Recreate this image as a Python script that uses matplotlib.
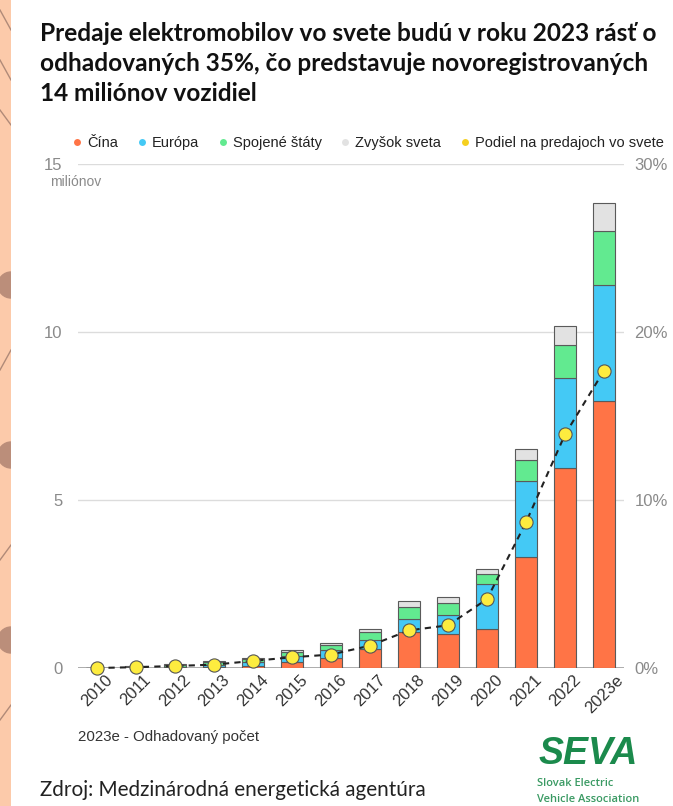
import numpy
import matplotlib.pyplot as plt
from matplotlib.lines import Line2D
from matplotlib.patches import Rectangle, Wedge

plt.rcParams['font.family'] = ['Liberation Sans', 'DejaVu Sans']

years = ['2010', '2011', '2012', '2013', '2014', '2015', '2016',
         '2017', '2018', '2019', '2020', '2021', '2022', '2023e']

# predaje v milionoch
china = [0.002, 0.005, 0.01, 0.015, 0.07, 0.18, 0.31, 0.57, 1.06, 1.02, 1.16, 3.29, 5.95, 7.95]
europe = [0.003, 0.01, 0.03, 0.07, 0.10, 0.17, 0.24, 0.27, 0.40, 0.57, 1.34, 2.27, 2.67, 3.44]
usa = [0.004, 0.02, 0.05, 0.09, 0.11, 0.12, 0.12, 0.22, 0.37, 0.34, 0.31, 0.64, 0.99, 1.61]
rest = [0.001, 0.01, 0.02, 0.02, 0.03, 0.08, 0.08, 0.11, 0.17, 0.17, 0.15, 0.32, 0.58, 0.85]

# podiel na predajoch v %
share = [0.0, 0.05, 0.12, 0.2, 0.42, 0.64, 0.8, 1.33, 2.24, 2.54, 4.1, 8.67, 13.9, 17.7]

series_names = ['Čína', 'Európa', 'Spojené štáty', 'Zvyšok sveta']
series_colors = ['#ff7446', '#44c9f5', '#62ea90', '#e2e2e2']
share_name = 'Podiel na predajoch vo svete'
share_color = '#fdec3f'

left_ticks = [0, 5, 10, 15]
right_ticks = [0, 10, 20, 30]

W, H = 673, 806
fig = plt.figure(figsize=(W / 100, H / 100), dpi=100)
fig.patch.set_facecolor('white')

# okraj pozadia vlavo
strip = fig.add_axes([0, 0, 11 / W, 1])
strip.set_xlim(0, 11)
strip.set_ylim(H, 0)
strip.axis('off')
strip.add_patch(Rectangle((0, 0), 11, H, color='#fccaaa'))
for yc in [285, 455, 640]:
    strip.add_patch(Wedge((11, yc), 13, 90, 270, color='#bb8e7a'))
for y1, y2 in [(10, 30), (60, 80), (110, 125), (370, 350), (560, 545), (720, 705)]:
    strip.plot([0, 11], [y1, y2], color='#b08a78', lw=1)

ax = fig.add_axes([77.5 / W, 138 / H, 546 / W, 504 / H])
x = numpy.arange(len(years))
bottom = numpy.zeros(len(years))
for values, color in zip([china, europe, usa, rest], series_colors):
    ax.bar(x, values, width=0.58, bottom=bottom, color=color,
           edgecolor='#5a5a5a', linewidth=0.8, zorder=3)
    bottom = bottom + numpy.array(values)

ax.set_xlim(-0.5, len(years) - 0.5)
ax.set_ylim(0, 15)
ax.set_yticks(left_ticks)
ax.yaxis.grid(True, color='#dcdcdc', linewidth=1)
ax.set_axisbelow(True)
ax.axhline(0, color='#a0a0a0', linewidth=1.2, zorder=2)
for side in ['top', 'right', 'left', 'bottom']:
    ax.spines[side].set_visible(False)
ax.tick_params(axis='y', length=0, pad=11, labelsize=12, labelcolor='#8a8a8a')
ax.set_xticks(x)
ax.set_xticklabels(years, rotation=45, ha='center')
ax.tick_params(axis='x', length=0, pad=3, labelsize=12, labelcolor='#333333')

ax2 = ax.twinx()
ax2.set_ylim(0, 30)
ax2.set_yticks(right_ticks)
ax2.set_yticklabels([str(t) + '%' for t in right_ticks])
ax2.tick_params(axis='y', length=0, pad=8, labelsize=12, labelcolor='#8a8a8a')
for side in ['top', 'right', 'left', 'bottom']:
    ax2.spines[side].set_visible(False)
ax2.plot(x, share, linestyle=(0, (3, 2.5)), color='#222222', linewidth=1.5,
         marker='o', markersize=9.5, markerfacecolor=share_color,
         markeredgecolor='#555555', markeredgewidth=0.8, clip_on=False, zorder=5)

fig.text(50 / W, 1 - 182 / H, 'miliónov', fontsize=10, color='#8a8a8a',
         va='center', ha='left')

handles = [Line2D([], [], linestyle='none', marker='o', markersize=5,
                  markerfacecolor=c, markeredgecolor='none') for c in series_colors]
handles.append(Line2D([], [], linestyle='none', marker='o', markersize=5,
                      markerfacecolor='#f5d020', markeredgecolor='none'))
fig.legend(handles, series_names + [share_name], loc='center left',
           bbox_to_anchor=(73 / W, 1 - 143 / H), ncol=5, frameon=False,
           fontsize=10.5, handlelength=0.6, handletextpad=0.4, columnspacing=1.3,
           borderaxespad=0, borderpad=0, labelcolor='#222222')

fig.text(40 / W, 1 - 22 / H,
         'Predaje elektromobilov vo svete budú v roku 2023 rásť o\n'
         'odhadovaných 35%, čo predstavuje novoregistrovaných\n'
         '14 miliónov vozidiel',
         fontsize=17.6, fontweight='bold', family='Lato', color='#111111',
         va='top', ha='left', linespacing=1.38)

fig.text(78 / W, 1 - 737 / H, '2023e - Odhadovaný počet', fontsize=10.8,
         color='#333333', va='center')
fig.text(40 / W, 1 - 790 / H, 'Zdroj: Medzinárodná energetická agentúra',
         fontsize=14.9, family='Lato', color='#222222', va='center')

seva_green = '#1b8a4c'
fig.text(588 / W, 1 - 754 / H, 'SEVA', fontsize=27, fontweight='heavy',
         fontstyle='italic', color=seva_green, ha='center', va='center')
fig.text(537 / W, 1 - 784 / H, 'Slovak Electric', fontsize=8, family='Open Sans',
         fontweight='semibold', color='#3a9a63', va='center')
fig.text(537 / W, 1 - 799 / H, 'Vehicle Association', fontsize=8, family='Open Sans',
         fontweight='semibold', color='#3a9a63', va='center')

plt.savefig('out.png', dpi=100)
